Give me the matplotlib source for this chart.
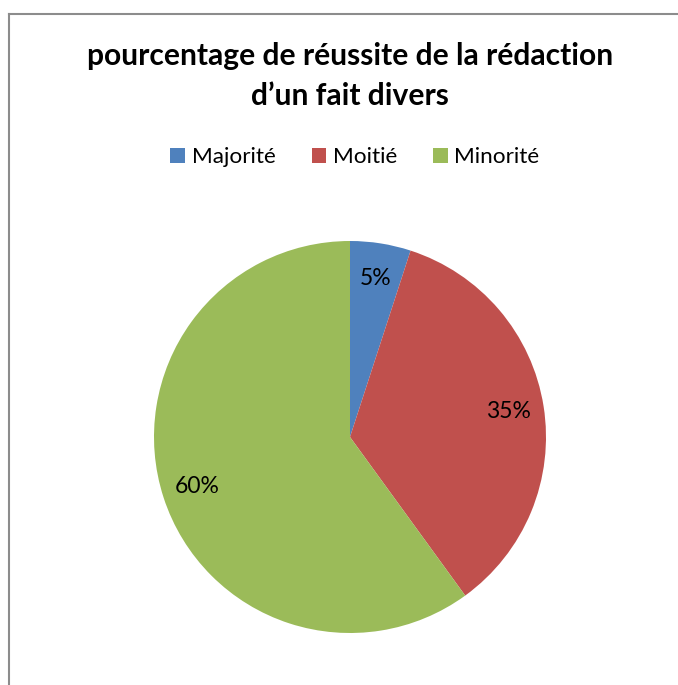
import matplotlib.pyplot as plt
from matplotlib.patches import Patch
from matplotlib.lines import Line2D

labels = ['Majorité', 'Moitié', 'Minorité']
values = [5, 35, 60]
colors = ['#4F81BD', '#C0504D', '#9BBB59']

plt.rcParams['font.family'] = ['Lato', 'DejaVu Sans']

fig = plt.figure(figsize=(6.78, 6.85), dpi=100)

# chart frame (only top and left edges are visible in the crop)
fig.add_artist(Line2D([9/678, 9/678], [0, 1 - 14/685], transform=fig.transFigure,
                      color='#8c8c8c', linewidth=1.5))
fig.add_artist(Line2D([9/678, 1], [1 - 14/685, 1 - 14/685], transform=fig.transFigure,
                      color='#8c8c8c', linewidth=1.5))

# pie centre ~ (350, 437) px, radius ~196 px
cx, cy, r = 350, 437, 196
ax = fig.add_axes([(cx - r) / 678, 1 - (cy + r) / 685, 2 * r / 678, 2 * r / 685])
ax.pie(values, colors=colors, startangle=90, counterclock=False,
       autopct=lambda p: f'{p:.0f}%', pctdistance=0.82,
       textprops={'fontsize': 16.5, 'color': 'black'})
ax.set_aspect('auto')
ax.set_xlim(-1, 1)
ax.set_ylim(-1, 1)

fig.text(350/678, 1 - 76/685, 'pourcentage de réussite de la rédaction\nd’un fait divers',
         ha='center', va='center', fontsize=21.6, fontweight='bold', linespacing=1.55)

handles = [Patch(facecolor=c, edgecolor='none') for c in colors]
fig.legend(handles, labels, loc='center', bbox_to_anchor=(355/678, 1 - 157/685),
           ncol=3, frameon=False, fontsize=16.2, handlelength=0.65, handleheight=0.65,
           handletextpad=0.3, columnspacing=1.6)

plt.savefig('out.png', dpi=100)
